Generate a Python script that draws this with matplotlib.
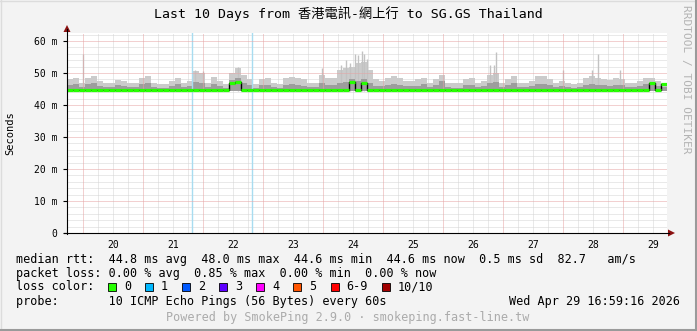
import numpy as np
import matplotlib
matplotlib.use('Agg')
import matplotlib.pyplot as plt
from matplotlib.lines import Line2D
from matplotlib.patches import Rectangle, Polygon

W, H = 697, 331

# time axis in days, 0 = Apr 20 00:00
t_start = -0.2667
t_end = 9.7333
bin_days = 0.1

day_labels = ['20', '21', '22', '23', '24', '25', '26', '27', '28', '29']
y_ticks = [0, 10, 20, 30, 40, 50, 60]
y_tick_labels = ['0', '10 m', '20 m', '30 m', '40 m', '50 m', '60 m']

# smoke / median in ms, one value per 2.4 h bin
smoke_floor = 44.3
smoke_top = [48.0, 48.3, 47.0, 48.5, 49.0, 47.5, 46.8, 47.0, 47.8, 47.5,
             46.8, 47.0, 48.5, 49.0, 47.0, 46.5, 46.5, 47.5, 48.5, 47.0,
             47.5, 50.5, 50.0, 47.0, 48.8, 47.5, 46.5, 50.0, 51.5, 49.5,
             48.0, 46.5, 48.0, 48.3, 47.0, 46.5, 48.5, 48.8, 48.5, 48.0,
             46.8, 46.8, 49.5, 48.5, 48.5, 51.0, 51.5, 52.0, 53.0, 53.5,
             51.0, 48.0, 47.5, 48.5, 49.0, 48.5, 47.5, 47.5, 48.0, 48.5,
             47.0, 48.0, 49.5, 47.0, 46.8, 46.8, 48.0, 48.3, 46.8, 47.5,
             49.5, 50.0, 47.0, 48.0, 49.0, 47.0, 46.8, 47.5, 49.0, 49.0,
             48.0, 47.0, 47.5, 46.8, 46.5, 47.0, 48.5, 49.0, 48.5, 48.0,
             47.8, 48.3, 48.0, 47.0, 47.0, 47.5, 48.5, 48.5, 47.5, 47.0]
smoke_mid = [46.3, 46.5, 45.6, 46.6, 46.8, 45.9, 45.5, 45.6, 46.2, 46.0,
             45.5, 45.6, 46.5, 47.0, 45.7, 45.4, 45.4, 45.9, 46.6, 45.7,
             45.9, 47.2, 47.0, 45.6, 46.5, 45.8, 45.4, 47.8, 48.5, 47.0,
             46.2, 45.4, 46.2, 46.4, 45.7, 45.4, 46.4, 46.6, 46.4, 46.0,
             45.5, 45.5, 46.8, 46.4, 46.3, 47.0, 47.3, 48.0, 47.5, 48.2,
             47.0, 46.0, 45.8, 46.3, 46.7, 46.4, 45.8, 45.8, 46.0, 46.5,
             45.6, 46.2, 47.5, 45.6, 45.4, 45.4, 46.2, 46.4, 45.5, 45.9,
             47.0, 47.2, 45.7, 46.3, 46.8, 45.6, 45.5, 45.9, 46.6, 46.7,
             46.1, 45.6, 45.8, 45.5, 45.4, 45.6, 46.4, 46.7, 46.4, 46.1,
             46.0, 46.3, 46.1, 45.6, 45.6, 45.9, 46.5, 46.5, 45.9, 45.7]
median = [44.7] * 100
median[27] = 47.0
median[28] = 47.3
median[47] = 47.2
median[49] = 46.8
median[97] = 46.8
median[99] = 46.5

spike_days = [0.0, 1.87, 2.0, 2.58, 3.98, 4.30, 4.38, 4.45, 4.53, 4.58,
              4.65, 4.68, 4.73, 6.78, 6.85, 6.88, 8.0, 8.48, 8.58, 8.95]
spike_vals = [55.8, 51.0, 50.5, 51.8, 51.5, 52.5, 54.0, 53.0, 56.0, 55.5,
              57.0, 56.0, 54.5, 52.5, 52.5, 56.5, 51.0, 51.0, 56.0, 51.0]
vrule_days = [1.817, 2.817]

loss_labels = ['0', '1', '2', '3', '4', '5', '6-9', '10/10']
loss_colors = ['#26ff00', '#00b8ff', '#0059ff', '#5e00ff', '#ff00ff',
               '#ff5500', '#ff0000', '#a10000']

title = 'Last 10 Days from 香港電訊-網上行 to SG.GS Thailand'
legend_rows = [
    'median rtt:  44.8 ms avg  48.0 ms max  44.6 ms min  44.6 ms now  0.5 ms sd  82.7   am/s',
    'packet loss: 0.00 % avg  0.85 % max  0.00 % min  0.00 % now',
]
probe_text = 'probe:       10 ICMP Echo Pings (56 Bytes) every 60s'
stamp = 'Wed Apr 29 16:59:16 2026'
footer = 'Powered by SmokePing 2.9.0 · smokeping.fast-line.tw'

MONO = ['DejaVu Sans Mono', 'Noto Sans CJK TC']


def fx(x):
    return x / float(W)


def fy(y):
    return 1 - y / float(H)


def main():
    plt.rcParams['font.family'] = MONO
    fig = plt.figure(figsize=(W / 100.0, H / 100.0), dpi=100)
    fig.patch.set_facecolor('#f3f3f3')

    ax = fig.add_axes([fx(67), fy(233), 600.0 / W, 200.0 / H])
    ax.set_facecolor('white')
    ax.set_xlim(t_start, t_end)
    ax.set_ylim(0, 62.5)
    for s in ax.spines.values():
        s.set_visible(False)

    # grid
    dot = (0, (1, 1))
    for y in np.arange(2, 62.5, 2):
        if y % 10 == 0:
            ax.axhline(y, color='#e6a3a3', lw=0.72, ls=dot, zorder=2.6)
        else:
            ax.axhline(y, color='#d4d4d4', lw=0.72, ls=dot, zorder=1)
    for d in np.arange(0, t_end, 0.25):
        if d % 1 == 0:
            ax.axvline(d, color='#e6a3a3', lw=0.72, ls=dot, zorder=2.6)
        else:
            ax.axvline(d, color='#d4d4d4', lw=0.72, ls=dot, zorder=1)

    # smoke
    x = t_start + bin_days * np.arange(len(smoke_top))
    ax.bar(x, np.array(smoke_top) - smoke_floor, width=bin_days, bottom=smoke_floor,
           align='edge', color='#cbcbcb', lw=0, zorder=2)
    ax.vlines(spike_days, smoke_floor, spike_vals, color='#c2c2c2', lw=1.0, zorder=2)
    ax.bar(x, np.array(smoke_mid) - smoke_floor, width=bin_days, bottom=smoke_floor,
           align='edge', color='#9d9d9d', lw=0, zorder=2.1)

    for d in vrule_days:
        ax.axvline(d, color='#a8dcf0', lw=1.0, zorder=2.5)

    # median
    ax.step(np.append(x, t_end), np.append(median, median[-1]), where='post',
            color='black', lw=1.0, zorder=3)
    ax.hlines(median, x, x + bin_days, color='#26ff00', lw=2.3, zorder=4)

    # ticks
    ax.set_yticks(y_ticks)
    ax.set_yticklabels(y_tick_labels)
    ax.set_xticks(np.arange(len(day_labels)) + 0.5)
    ax.set_xticklabels(day_labels)
    ax.tick_params(axis='x', length=0, pad=5, labelsize=7)
    ax.tick_params(axis='y', length=3, width=0.8, pad=4, labelsize=7)

    # axis lines with arrows
    fig.add_artist(Line2D([fx(67), fx(67)], [fy(234), fy(29)], color='black', lw=0.8))
    fig.add_artist(Line2D([fx(64), fx(669)], [fy(233), fy(233)], color='black', lw=0.8))
    fig.add_artist(Polygon([[fx(67), fy(25)], [fx(63.5), fy(32)], [fx(70.5), fy(32)]],
                           closed=True, fc='#8b1010', ec='none'))
    fig.add_artist(Polygon([[fx(675), fy(233)], [fx(668), fy(229.5)], [fx(668), fy(236.5)]],
                           closed=True, fc='#8b1010', ec='none'))

    # texts
    fig.text(fx(348), fy(14), title, ha='center', va='center', fontsize=9.5)
    fig.text(fx(10), fy(133), 'Seconds', rotation=90, ha='center', va='center', fontsize=7.5)
    fig.text(fx(686), fy(5), 'RRDTOOL / TOBI OETIKER', rotation=270, ha='center',
             va='top', fontsize=8, color='#b3b3b3')

    fs = 8.5
    cw = 7.09
    fig.text(fx(16), fy(259), legend_rows[0], va='center', fontsize=fs)
    fig.text(fx(16), fy(273), legend_rows[1], va='center', fontsize=fs)
    fig.text(fx(16), fy(287), 'loss color:', va='center', fontsize=fs)
    px = 108
    for lab, col in zip(loss_labels, loss_colors):
        fig.add_artist(Rectangle((fx(px), fy(291)), 8.0 / W, 8.0 / H,
                                 transform=fig.transFigure, fc=col, ec='black', lw=0.6))
        fig.text(fx(px + 16), fy(287), lab, va='center', fontsize=fs)
        px = px + 16 + len(lab) * cw + 14
    fig.text(fx(16), fy(301), probe_text, va='center', fontsize=fs)
    fig.text(fx(680), fy(301), stamp, ha='right', va='center', fontsize=fs)
    fig.text(fx(348), fy(317.5), footer, ha='center', va='center', fontsize=fs,
             color='#ababab')

    # frame
    fig.add_artist(Line2D([0, 1], [fy(0.5), fy(0.5)], color='#dcdcdc', lw=1))
    fig.add_artist(Line2D([fx(0.5), fx(0.5)], [0, 1], color='#dcdcdc', lw=1))
    fig.add_artist(Line2D([0, 1], [fy(330), fy(330)], color='#9a9a9a', lw=1.5))
    fig.add_artist(Line2D([fx(696), fx(696)], [0, 1], color='#9a9a9a', lw=1.5))

    fig.savefig('out.png', dpi=100, facecolor=fig.get_facecolor())
    return 0


if __name__ == '__main__':
    main()
